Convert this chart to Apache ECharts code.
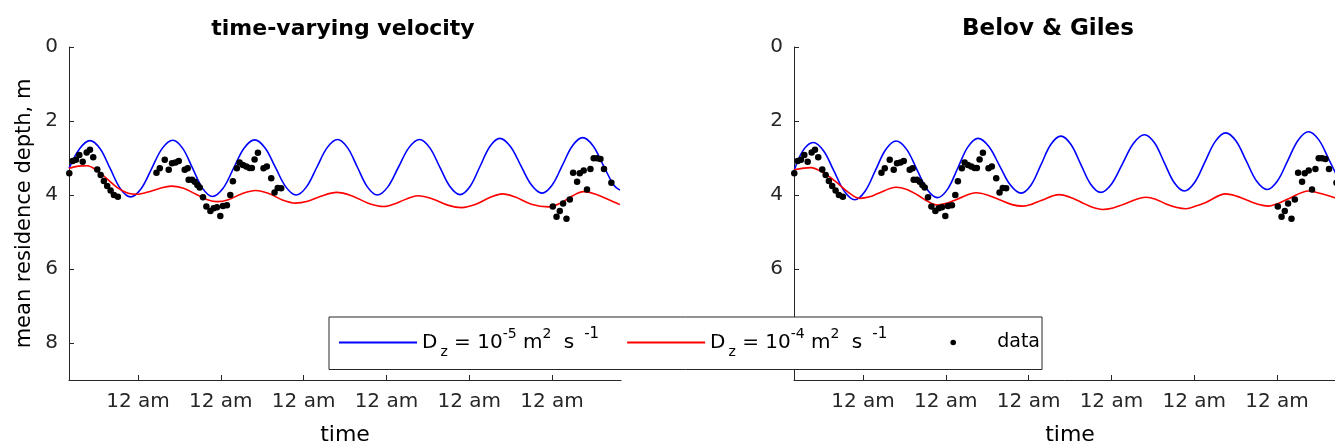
<!DOCTYPE html>
<html>
<head>
<meta charset="utf-8">
<script src="https://cdn.jsdelivr.net/npm/echarts@6/dist/echarts.min.js"></script>
<style>
html,body{margin:0;padding:0;background:#fff;}
#chart{width:1335px;height:446px;}
</style>
</head>
<body>
<div id="chart"></div>
<script>
// ---- data (time in days; 1,2,...,6 = successive midnights) ----
const titles = ['time-varying velocity', 'Belov & Giles'];
const seriesNames = ['Dz = 10-5 m2 s-1', 'Dz = 10-4 m2 s-1', 'data'];
const xTickValues = [1, 2, 3, 4, 5, 6];
const xTickLabel = '12 am';
const yTickValues = [0, 2, 4, 6, 8];

const blueLeft = [
  [0.167,3.28],[0.295,2.75],[0.42,2.53],[0.5425,2.75],[0.665,3.29],[0.7875,3.83],[0.91,4.05],
  [1.0375,3.83],[1.165,3.285],[1.2925,2.74],[1.42,2.52],[1.54,2.74],[1.66,3.28],[1.78,3.82],[1.90,4.04],
  [2.0275,3.82],[2.155,3.275],[2.2825,2.73],[2.41,2.51],[2.535,2.73],[2.66,3.255],[2.785,3.78],[2.91,4.00],
  [3.035,3.78],[3.16,3.25],[3.285,2.72],[3.41,2.50],[3.53,2.72],[3.65,3.25],[3.77,3.78],[3.89,4.00],
  [4.0175,3.78],[4.145,3.25],[4.2725,2.72],[4.40,2.50],[4.5225,2.72],[4.645,3.245],[4.7675,3.77],[4.89,3.99],
  [5.01,3.77],[5.13,3.23],[5.25,2.69],[5.37,2.47],[5.4975,2.69],[5.625,3.21],[5.7525,3.73],[5.88,3.95],
  [6.0025,3.73],[6.125,3.20],[6.2475,2.67],[6.37,2.45],[6.495,2.67],[6.62,3.20],[6.745,3.73],[6.82,3.87]
];
const redLeft = [
  [0.167,3.28],[0.28,3.22],[0.384,3.21],[0.50,3.33],[0.62,3.55],[0.75,3.80],[0.88,3.95],[1.0,3.98],
  [1.12,3.92],[1.25,3.83],[1.40,3.76],[1.55,3.82],[1.70,3.98],[1.83,4.12],[1.96,4.18],[2.10,4.12],
  [2.25,3.97],[2.42,3.88],[2.58,3.96],[2.75,4.14],[2.90,4.22],[3.05,4.17],[3.20,4.04],[3.40,3.93],
  [3.58,4.02],[3.78,4.22],[3.97,4.31],[4.12,4.22],[4.25,4.10],[4.38,4.02],[4.55,4.10],[4.75,4.28],
  [4.91,4.34],[5.08,4.25],[5.25,4.07],[5.40,3.97],[5.55,4.05],[5.75,4.25],[5.96,4.32],[6.10,4.22],
  [6.25,4.02],[6.38,3.91],[6.52,3.97],[6.68,4.12],[6.82,4.26]
];
const blueRight = [
  [0.167,3.35],[0.275,2.80],[0.40,2.58],[0.525,2.81],[0.65,3.355],[0.775,3.90],[0.90,4.13],
  [1.025,3.90],[1.15,3.335],[1.275,2.77],[1.40,2.54],[1.525,2.76],[1.65,3.305],[1.775,3.85],[1.90,4.07],
  [2.0225,3.84],[2.145,3.27],[2.2675,2.70],[2.39,2.47],[2.52,2.69],[2.65,3.21],[2.78,3.73],[2.91,3.95],
  [3.03,3.73],[3.15,3.18],[3.27,2.63],[3.39,2.41],[3.51,2.63],[3.63,3.17],[3.75,3.71],[3.87,3.93],
  [4.0025,3.70],[4.135,3.15],[4.2675,2.60],[4.40,2.37],[4.52,2.59],[4.64,3.13],[4.76,3.67],[4.88,3.89],
  [5.005,3.66],[5.13,3.105],[5.255,2.55],[5.38,2.32],[5.505,2.54],[5.63,3.085],[5.755,3.63],[5.88,3.85],
  [6.005,3.62],[6.13,3.07],[6.255,2.52],[6.38,2.29],[6.505,2.51],[6.63,3.055],[6.755,3.60],[6.82,3.76]
];
const redRight = [
  [0.167,3.32],[0.37,3.26],[0.52,3.40],[0.66,3.62],[0.82,3.92],[0.96,4.09],[1.08,4.05],[1.18,3.96],
  [1.40,3.79],[1.53,3.85],[1.66,4.00],[1.78,4.17],[1.90,4.27],[2.02,4.22],[2.13,4.12],[2.37,3.94],
  [2.50,4.00],[2.65,4.13],[2.80,4.26],[2.93,4.30],[3.05,4.24],[3.15,4.15],[3.37,3.99],[3.50,4.06],
  [3.64,4.20],[3.77,4.33],[3.89,4.39],[4.02,4.35],[4.15,4.25],[4.42,4.06],[4.54,4.12],[4.66,4.24],
  [4.78,4.33],[4.90,4.37],[5.02,4.30],[5.14,4.20],[5.38,3.97],[5.51,4.03],[5.64,4.14],[5.77,4.25],
  [5.90,4.30],[6.02,4.22],[6.14,4.10],[6.38,3.89],[6.53,3.96],[6.68,4.06],[6.82,4.18]
];
const observed = [
  [0.170,3.41],[0.211,3.08],[0.251,3.05],[0.291,2.92],[0.332,3.10],[0.380,2.85],[0.420,2.78],[0.459,2.98],
  [0.508,3.31],[0.549,3.46],[0.588,3.62],[0.628,3.76],[0.669,3.88],[0.709,4.00],[0.757,4.05],
  [1.223,3.40],[1.263,3.28],[1.323,3.05],[1.371,3.32],[1.411,3.14],[1.452,3.12],[1.492,3.08],[1.564,3.32],
  [1.600,3.28],[1.612,3.59],[1.652,3.59],[1.685,3.64],[1.717,3.73],[1.745,3.80],[1.785,4.06],[1.826,4.31],
  [1.874,4.43],[1.914,4.36],[1.953,4.33],[1.994,4.57],[2.026,4.30],[2.074,4.28],[2.115,4.00],[2.146,3.63],
  [2.194,3.28],[2.227,3.12],[2.267,3.19],[2.308,3.23],[2.347,3.27],[2.375,3.27],[2.408,3.04],[2.448,2.86],
  [2.516,3.28],[2.556,3.23],[2.609,3.55],[2.649,3.93],[2.688,3.81],[2.729,3.82],
  [6.010,4.31],[6.055,4.59],[6.094,4.43],[6.134,4.23],[6.175,4.64],[6.215,4.12],[6.255,3.40],[6.303,3.64],
  [6.335,3.41],[6.383,3.34],[6.423,3.85],[6.464,3.30],[6.504,3.01],[6.544,3.01],[6.585,3.03],[6.628,3.30],
  [6.717,3.67]
];

// ---- chart ----
const FONT = 'DejaVu Sans';
const AX = '#262626';
const X_MIN = 1 / 6, X_MAX = 6 + 5 / 6;

function xAxisFor(i) {
  return {
    type: 'value', gridIndex: i, min: X_MIN, max: X_MAX,
    name: 'time', nameLocation: 'middle', nameGap: 44,
    nameTextStyle: {fontSize: 22, color: '#000', fontFamily: FONT},
    axisLine: {show: true, onZero: false, lineStyle: {color: AX, width: 1}},
    axisTick: {show: true, inside: true, length: 5, customValues: xTickValues, lineStyle: {color: AX}},
    axisLabel: {show: true, customValues: xTickValues, formatter: () => xTickLabel,
      fontSize: 20, color: AX, margin: 12, fontFamily: FONT},
    splitLine: {show: false}
  };
}
function yAxisFor(i) {
  return {
    type: 'value', gridIndex: i, min: 0, max: 9, inverse: true,
    name: i === 0 ? 'mean residence depth, m' : '', nameLocation: 'middle', nameGap: 34,
    nameTextStyle: {fontSize: 21, color: '#000', fontFamily: FONT},
    axisLine: {show: true, onZero: false, lineStyle: {color: AX, width: 1}},
    axisTick: {show: true, inside: true, length: 5, customValues: yTickValues, lineStyle: {color: AX}},
    axisLabel: {show: true, customValues: yTickValues, fontSize: 20, color: AX, margin: 11, fontFamily: FONT},
    splitLine: {show: false}
  };
}
function lineSeries(name, data, color, i) {
  return {
    type: 'line', name: name, xAxisIndex: i, yAxisIndex: i, data: data,
    symbol: 'none', showSymbol: false, smooth: 0.35,
    lineStyle: {color: color, width: 1.6}, itemStyle: {color: color},
    silent: true, animation: false
  };
}
function dotSeries(i) {
  // drawn as markers only (connecting line hidden)
  return {
    type: 'line', name: seriesNames[2], xAxisIndex: i, yAxisIndex: i, data: observed,
    symbol: 'circle', symbolSize: 6.5, showSymbol: true, showAllSymbol: true,
    lineStyle: {width: 0, opacity: 0},
    itemStyle: {color: '#000', opacity: 1, borderWidth: 0},
    silent: true, animation: false
  };
}
function legendText(name) {
  if (name === seriesNames[2]) return '{d|data}';
  const e = name.indexOf('10-5') >= 0 ? '-5' : '-4';
  return '{n|D}{sub|z}{n| = 10}{sup|' + e + '}{n| m}{sup2|2}{n| s}{supEnd|-1}';
}

const chart = echarts.init(document.getElementById('chart'), null, {renderer: 'canvas'});
chart.setOption({
  animation: false,
  backgroundColor: '#fff',
  textStyle: {fontFamily: FONT},
  title: [
    {text: titles[0], left: 338, top: 13, textAlign: 'center',
      textStyle: {fontSize: 22, fontWeight: 'bold', color: '#000', fontFamily: FONT}},
    {text: titles[1], left: 1043, top: 13, textAlign: 'center',
      textStyle: {fontSize: 23, fontWeight: 'bold', color: '#000', fontFamily: FONT}}
  ],
  grid: [
    {left: 69, top: 47, width: 552, height: 333, containLabel: false, outerBoundsMode: 'none'},
    {left: 794, top: 47, width: 552, height: 333, containLabel: false, outerBoundsMode: 'none'}
  ],
  xAxis: [xAxisFor(0), xAxisFor(1)],
  yAxis: [yAxisFor(0), yAxisFor(1)],
  legend: {
    left: 329, top: 317, orient: 'horizontal',
    itemWidth: 78, itemHeight: 7, itemGap: 27,
    selectedMode: false,
    padding: [10, 2, 10, 9],
    borderColor: AX, borderWidth: 1, borderRadius: 0, backgroundColor: '#fff',
    data: [
      {name: seriesNames[0], itemStyle: {opacity: 0}},
      {name: seriesNames[1], itemStyle: {opacity: 0}},
      {name: seriesNames[2]}
    ],
    formatter: legendText,
    textStyle: {
      fontSize: 20, color: '#000', fontFamily: FONT,
      rich: {
        n: {fontSize: 20, color: '#000', fontFamily: FONT},
        d: {fontSize: 19, color: '#000', fontFamily: FONT},
        sub: {fontSize: 14, color: '#000', fontFamily: FONT, padding: [20, 0, 0, 3]},
        sup: {fontSize: 14, color: '#000', fontFamily: FONT, padding: [0, 0, 16, 0]},
        sup2: {fontSize: 14, color: '#000', fontFamily: FONT, padding: [0, 6, 16, 0]},
        supEnd: {fontSize: 15, color: '#000', fontFamily: FONT, padding: [0, 0, 16, 10]}
      }
    }
  },
  series: [
    lineSeries(seriesNames[0], blueLeft, '#0000ff', 0),
    lineSeries(seriesNames[1], redLeft, '#ff0000', 0),
    dotSeries(0),
    lineSeries(seriesNames[0], blueRight, '#0000ff', 1),
    lineSeries(seriesNames[1], redRight, '#ff0000', 1),
    dotSeries(1)
  ]
});
</script>
</body>
</html>
